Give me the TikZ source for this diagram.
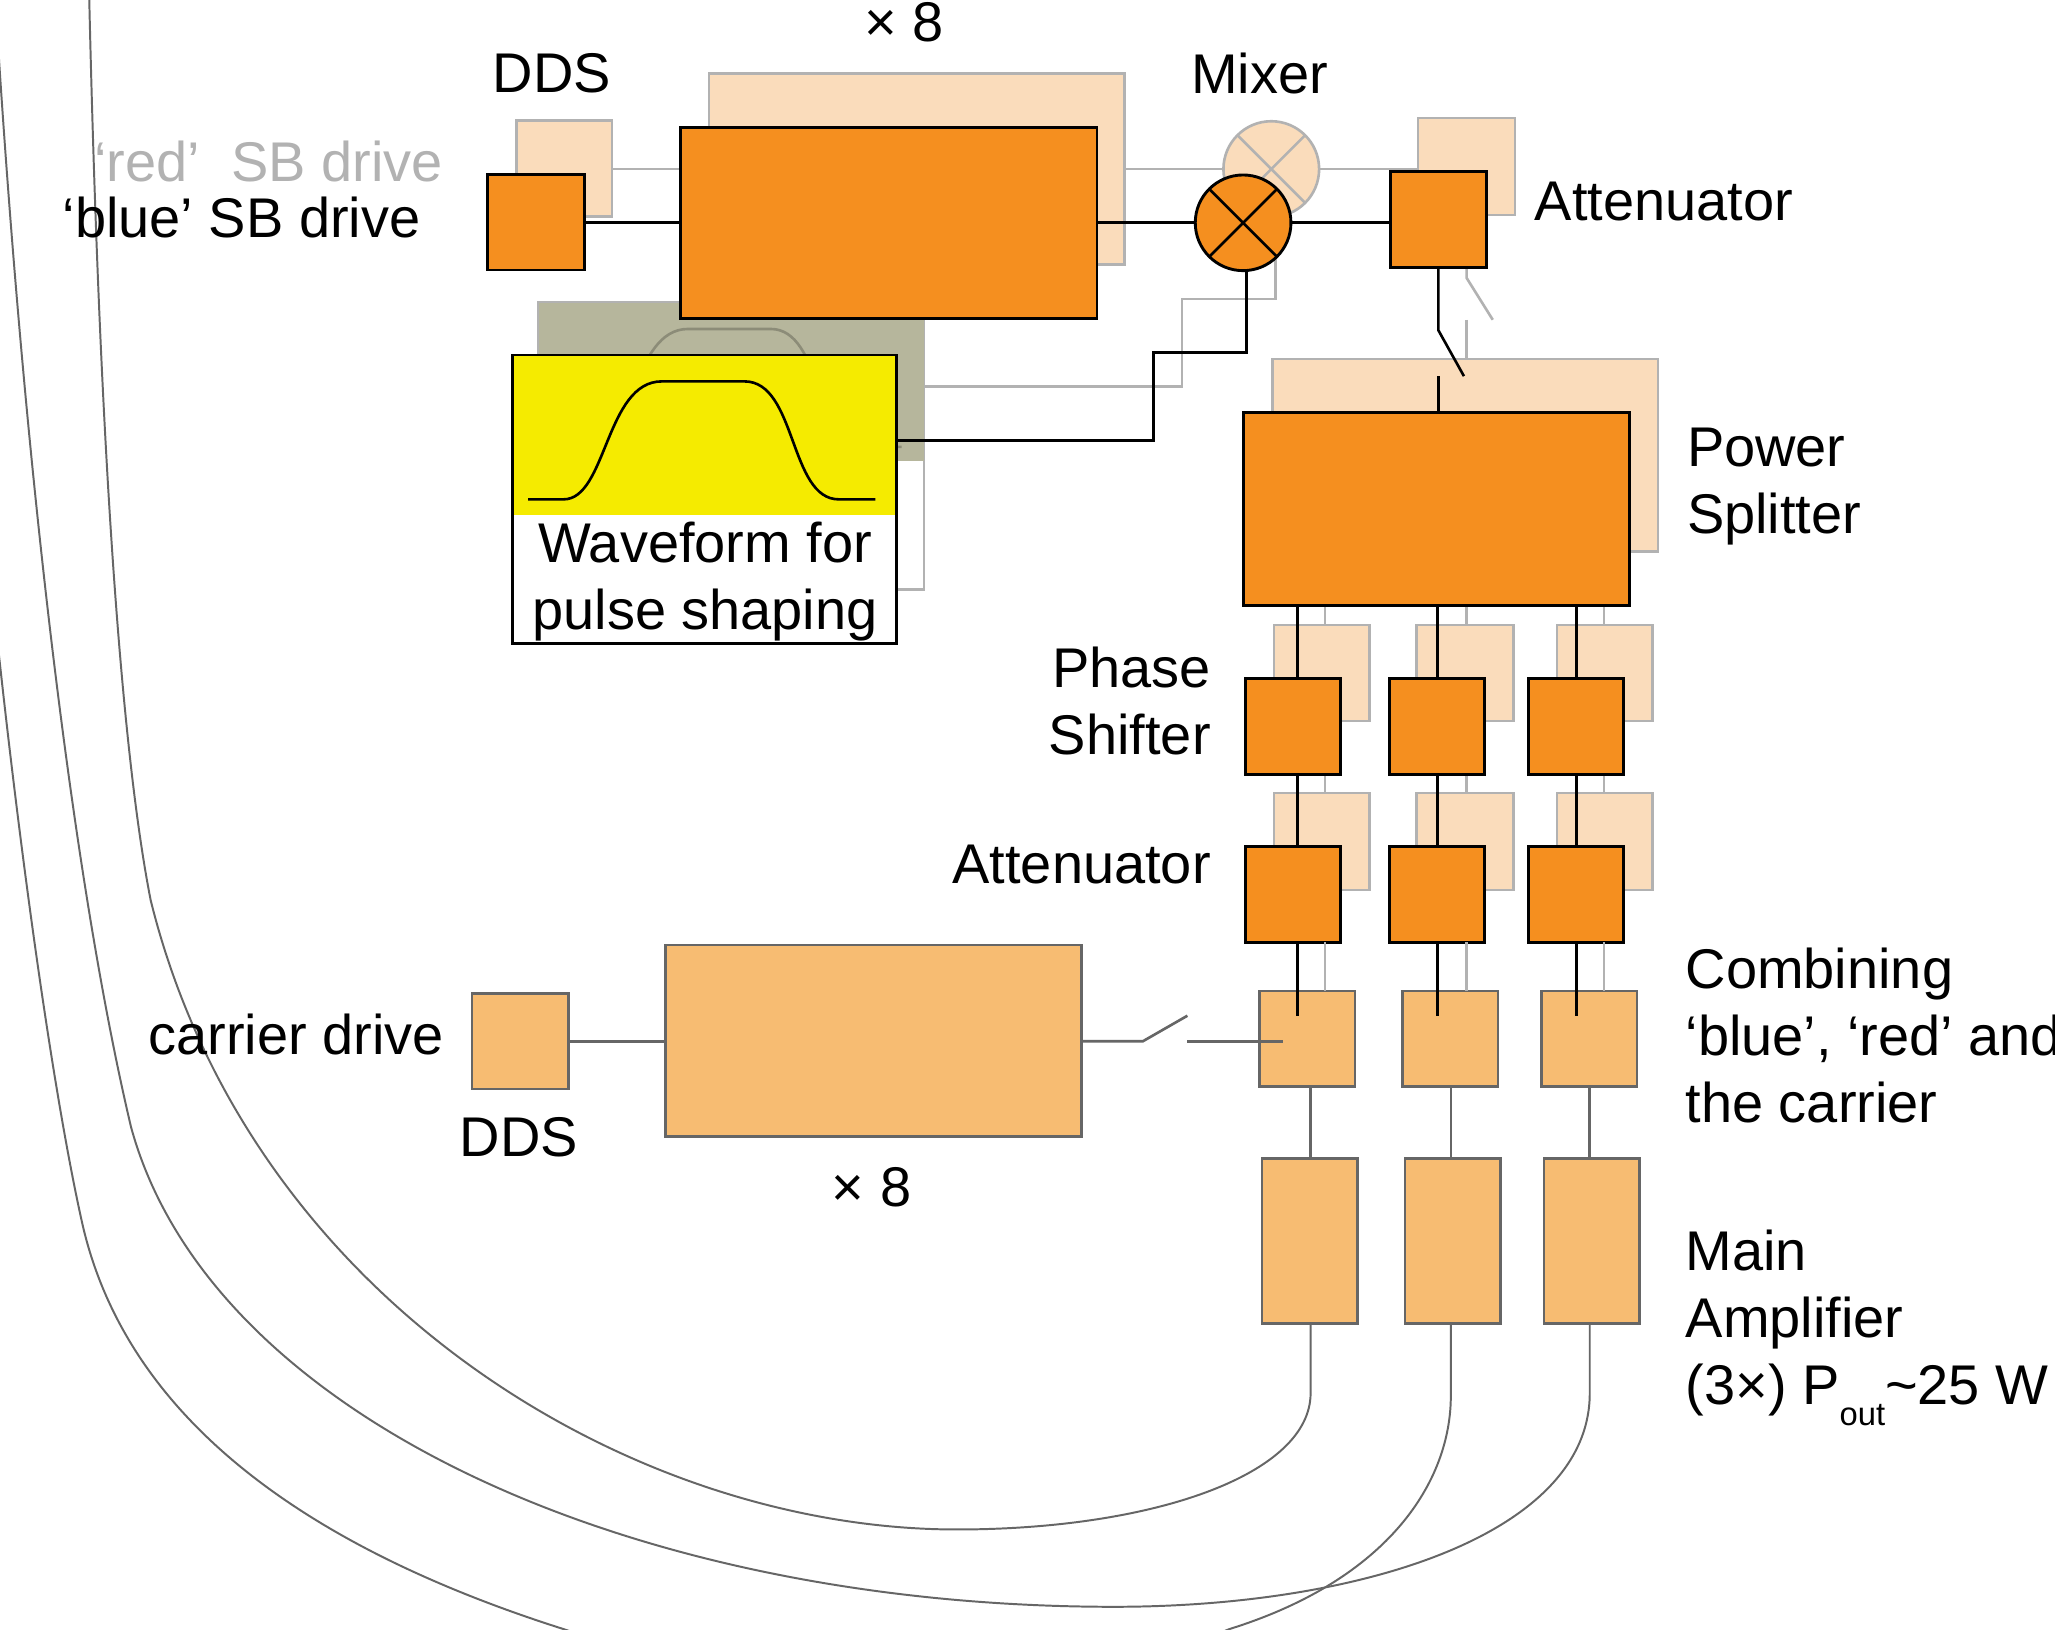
\documentclass[tikz,border=0pt]{standalone}
\usepackage{fontspec}
\setmainfont{Liberation Sans}
\definecolor{pale}{HTML}{FADCBB}
\definecolor{paleline}{HTML}{B2B2B2}
\definecolor{vivid}{HTML}{F58F1F}
\definecolor{amber}{HTML}{F7BC72}
\definecolor{amberline}{HTML}{666666}
\definecolor{olive}{HTML}{B6B69C}
\definecolor{oliveline}{HTML}{8C8C78}
\definecolor{sunny}{HTML}{F5EB00}
\tikzset{
  box/.style={rectangle,inner sep=0pt,outer sep=0pt},
  paleb/.style={box,fill=pale,draw=paleline,line width=2pt},
  vivb/.style={box,fill=vivid,draw=black,line width=2.2pt},
  ambb/.style={box,fill=amber,draw=amberline,line width=2pt},
  blk/.style={draw=black,line width=2pt},
  gry/.style={draw=paleline,line width=2pt},
  amb/.style={draw=amberline,line width=2pt},
  cable/.style={draw=amberline,line width=1.5pt},
  lbl/.style={inner sep=0pt,font=\fontsize{42.7}{51.2}\selectfont,text=black},
  lbg/.style={lbl,text=paleline}
}
\newcommand\bx[6]{\node[#1,minimum width={(#5-#3)*1pt},minimum height={(#6-#4)*1pt}] (#2) at ({(#3+#5)/2},{(#4+#6)/2}) {};}
\begin{document}
\begin{tikzpicture}[x=1pt,y=-1pt]
\useasboundingbox (0,0) rectangle (1568,1243);
\clip (0,0) rectangle (1568,1243);
\fill[white] (0,0) rectangle (1568,1243);
% column guides
\foreach \n/\x in {k1/990,k2/1097,k3/1203,g1/1011,g2/1119,g3/1224,m1/1000,m2/1107,m3/1213}{\coordinate (\n) at (\x,0);}
\coordinate (ry) at (0,129);
\coordinate (by) at (0,170);
\coordinate (cy) at (0,794.5);
\coordinate (ke) at (0,775);
% ---- pale layer
\bx{paleb}{rTimes}{541}{56}{858}{202}
\bx{paleb}{rDds}{394}{92}{467}{165}
\node[paleb,circle,minimum size=73pt] (rMix) at (970,129) {};
\draw[paleline,line width=2pt] (rMix.45)--(rMix.225) (rMix.135)--(rMix.-45);
\bx{paleb}{rAtt}{1082}{90}{1156}{164}
\bx{paleb}{rSplit}{971}{274}{1265}{421}
\foreach \i/\a/\b in {1/972/1045,2/1081/1155,3/1188/1261}{
  \bx{paleb}{rPh\i}{\a}{477}{\b}{550}
  \bx{paleb}{rAt\i}{\a}{605}{\b}{679}
}
\bx{box,fill=white,draw=paleline,line width=2pt}{rWaveF}{411}{231}{705}{450}
\bx{box,fill=olive}{rWave}{411}{231}{705}{352}
\draw[line width=2pt,draw=oliveline] (423,341) -- (450,341) .. controls (483,341) and (482,251) .. (525,251) -- (588,251) .. controls (628,251) and (622,341) .. (660,341) -- (688,341);
\draw[gry] (rDds.east |- ry) -- (rTimes.west |- ry);
\draw[gry] (rTimes.east |- ry) -- (rMix.west);
\draw[gry] (rMix.east) -- (rAtt.west |- ry);
\coordinate (rgA) at (973,228);
\coordinate (rgB) at (902,295);
\draw[gry] (rMix.south -| rgA) -- (rgA) -- (rgB |- rgA) -- (rgB) -- (rWave.east |- rgB);
\coordinate (rs1) at (1119,212);
\coordinate (rs2) at (1139,244);
\coordinate (rs3) at (1119,244);
\draw[gry] (rAtt.south -| rs1) -- (rs1) -- (rs2);
\draw[gry] (rs3) -- (rSplit.north -| rs3);
\foreach \i in {1,2,3}{
  \draw[gry] (rSplit.south -| g\i) -- (rPh\i.north -| g\i);
  \draw[gry] (rPh\i.south -| g\i) -- (rAt\i.north -| g\i);
}
% ---- vivid layer
\bx{vivb}{dds}{372}{133}{446}{206}
\bx{vivb}{times}{519}{97}{837}{243}
\node[vivb,circle,minimum size=73pt] (mix) at (948.5,170) {};
\draw[black,line width=2pt] (mix.45)--(mix.225) (mix.135)--(mix.-45);
\bx{vivb}{att}{1061}{131}{1134}{204}
\bx{vivb}{split}{949}{315}{1243}{462}
\bx{box,fill=white,draw=black,line width=2.2pt}{wave}{391}{271}{684}{491}
\bx{box,fill=sunny}{waveTop}{392}{272}{683}{393}
\draw[black,line width=2pt] (403,381) -- (430,381) .. controls (463,381) and (462,291) .. (505,291) -- (568,291) .. controls (608,291) and (602,381) .. (640,381) -- (668,381);
\draw[blk] (dds.east |- by) -- (times.west |- by);
\draw[blk] (times.east |- by) -- (mix.west);
\draw[blk] (mix.east) -- (att.west |- by);
\coordinate (bgA) at (951,269);
\coordinate (bgB) at (880,336);
\draw[blk] (mix.south -| bgA) -- (bgA) -- (bgB |- bgA) -- (bgB) -- (wave.east |- bgB);
\coordinate (bs1) at (1097.5,252);
\coordinate (bs2) at (1117,287);
\coordinate (bs3) at (1097.5,287);
\draw[blk] (att.south -| bs1) -- (bs1) -- (bs2);
\draw[blk] (bs3) -- (split.north -| bs3);
\foreach \i/\a/\b in {1/950/1023,2/1060/1133,3/1166/1239}{
  \bx{vivb}{ph\i}{\a}{518}{\b}{591}
  \bx{vivb}{at\i}{\a}{646}{\b}{719}
}
% ---- amber layer
\bx{ambb}{cb1}{961}{756}{1034}{829}
\bx{ambb}{cb2}{1070}{756}{1143}{829}
\bx{ambb}{cb3}{1176}{756}{1249}{829}
\bx{ambb}{amp1}{963}{884}{1036}{1010}
\bx{ambb}{amp2}{1072}{884}{1145}{1010}
\bx{ambb}{amp3}{1178}{884}{1251}{1010}
\bx{ambb}{cdds}{360}{758}{434}{831}
\bx{ambb}{ctimes}{508}{721}{825}{867}
\foreach \i in {1,2,3}{
  \draw[blk] (split.south -| k\i) -- (ph\i.north -| k\i);
  \draw[blk] (ph\i.south -| k\i) -- (at\i.north -| k\i);
  \draw[blk] (at\i.south -| k\i) -- (k\i |- ke);
  \draw[amb] (cb\i.south -| m\i) -- (amp\i.north -| m\i);
  \draw[gry] (at\i.south -| g\i) -- (cb\i.north -| g\i);
}
\draw[amb] (cdds.east |- cy) -- (ctimes.west |- cy);
\coordinate (sw1) at (872,794.5);
\coordinate (sw2) at (906,775);
\coordinate (sw3) at (906,794.5);
\coordinate (sw4) at (979,794.5);
\draw[amb] (ctimes.east |- cy) -- (sw1) -- (sw2);
\draw[amb] (sw3) -- (sw4);
% ---- cables
\draw[cable] (amp1.south -| m1) -- (1000,1063) .. controls (1000,1125) and (880,1167) .. (730,1167)
  .. controls (480,1167) and (190,990) .. (115,687) .. controls (90,560) and (75,300) .. (68,-5);
\draw[cable] (amp3.south -| m3) -- (1213,1063) .. controls (1213,1170) and (1040,1226) .. (850,1226)
  .. controls (480,1226) and (160,1080) .. (100,860) .. controls (55,670) and (18,350) .. (-3,10);
\draw[cable] (amp2.south -| m2) -- (1107,1065) .. controls (1107,1130) and (1060,1205) .. (938,1243)
  .. controls (800,1300) and (600,1300) .. (430,1243) .. controls (200,1170) and (90,1060) .. (62,930)
  .. controls (40,830) and (15,650) .. (-4,470);
% ---- labels
\node[lbl] (tTimes) at (690,17) {× 8};
\node[lbl] (tDds) at (421,56) {DDS};
\node[lbl] (tMix) at (961,56) {Mixer};
\node[lbg,anchor=east] (tRed) at (338,123) {‘red’\ \ SB drive};
\node[lbl,anchor=east] (tBlue) at (321,166) {‘blue’ SB drive};
\node[lbl,anchor=west] (tAtt) at (1171,154) {Attenuator};
\node[lbl,anchor=west,align=left] (tSplit) at (1287,371) {Power\\Splitter};
\node[lbl,align=center] (tWave) at (538,444) {Waveform for\\pulse shaping};
\node[lbl,anchor=east,align=right] (tPhase) at (924,535) {Phase\\Shifter};
\node[lbl,anchor=east] (tAtt2) at (924,660) {Attenuator};
\node[lbl,anchor=east] (tCarrier) at (339,789) {carrier drive};
\node[lbl] (tDds2) at (396,868) {DDS};
\node[lbl] (tTimes2) at (665,906) {× 8};
\node[lbl,anchor=west,align=left] (tComb) at (1286,790) {Combining\\‘blue’, ‘red’ and\\the carrier};
\node[lbl,anchor=west,align=left] (tMain) at (1286,1013) {Main\\Amplifier\\(3×) P\raisebox{-0.38em}{\fontsize{25}{25}\selectfont out}\textasciitilde 25 W};
\end{tikzpicture}
\end{document}
